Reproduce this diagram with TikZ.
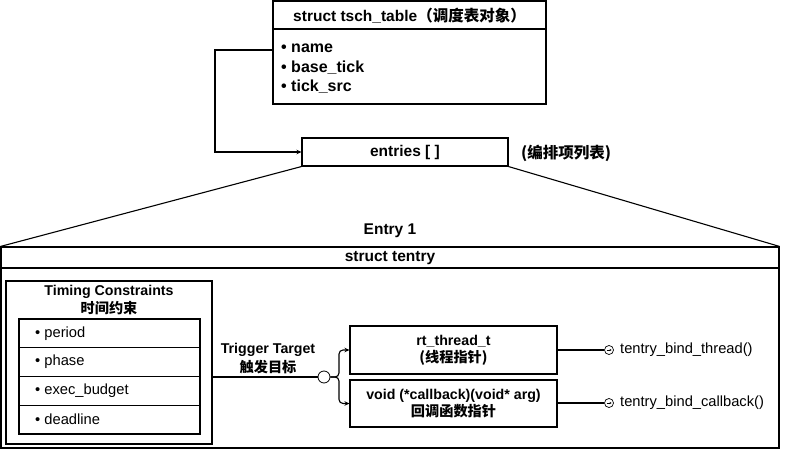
\documentclass[tikz,border=0pt]{standalone}
\usepackage{fontspec}
\setmainfont{Liberation Sans}
\newfontfamily\cjk{Noto Sans CJK SC}
\usetikzlibrary{arrows.meta}
\newcommand{\zh}[1]{{\cjk #1}}
\begin{document}
\begin{tikzpicture}[x=1pt,y=-1pt,
  ln/.style={draw=black, line width=1.1pt},
  box/.style={ln, inner sep=0pt, rectangle},
  hdr/.style={inner sep=0pt, font=\fontsize{15.5}{18}\selectfont\bfseries},
  bt/.style={inner sep=0pt, font=\fontsize{14.2}{17}\selectfont\bfseries, align=center},
  itm/.style={inner sep=0pt, anchor=west, font=\fontsize{16}{19}\selectfont\bfseries},
  reg/.style={inner sep=0pt, anchor=west, font=\fontsize{14.7}{17}\selectfont},
  tip/.style={-{Stealth[length=5pt,width=4.5pt]}},
  port/.style={circle, draw=black, line width=0.7pt, minimum size=9pt, inner sep=0pt, fill=white}
]
\useasboundingbox (0,0) rectangle (800,449);

% tsch_table
\node[box, minimum width=273pt, minimum height=103pt] (tsch) at (409.5,52.5) {};
\draw[ln] (tsch.west |- 0,29) -- (tsch.east |- 0,29);
\node[hdr] (tschtitle) at (409.5,15.5) {struct tsch\_table\zh{（调度表对象）}};
\node[itm] (iname) at (281,48) {• name};
\node[itm] (ibase) at (281,67.5) {• base\_tick};
\node[itm] (isrc) at (281,87) {• tick\_src};

% entries
\node[box, minimum width=206pt, minimum height=28pt, hdr] (entries) at (405,152) {entries [ ]};
\node[hdr, anchor=west] (elist) at (521,153) {\zh{(编排项列表)}};
\draw[ln, tip] (tsch.west |- 0,50) -- (215,50) |- (entries.west);

% tentry
\node[box, minimum width=778pt, minimum height=201pt] (tentry) at (390,347.5) {};
\draw[ln] (entries.south west) -- (tentry.north west);
\draw[ln] (entries.south east) -- (tentry.north east);
\node[hdr] (entry1) at (390,231) {Entry 1};
\draw[ln] (tentry.west |- 0,268) -- (tentry.east |- 0,268);
\node[hdr] (tentrytitle) at (390,258) {struct tentry};

% timing constraints
\node[box, minimum width=206pt, minimum height=163pt] (timing) at (109,362.5) {};
\node[bt] (tc1) at (109,292) {Timing Constraints};
\node[bt] (tc2) at (109,308.5) {\zh{时间约束}};
\node[box, minimum width=181pt, minimum height=28.75pt] (r1) at (109.5,333.4) {};
\node[box, minimum width=181pt, minimum height=28.75pt] (r2) at (109.5,362.1) {};
\node[box, minimum width=181pt, minimum height=28.75pt] (r3) at (109.5,390.9) {};
\node[box, minimum width=181pt, minimum height=28.75pt] (r4) at (109.5,419.6) {};
\node[reg] (t1) at (35,333.4) {• period};
\node[reg] (t2) at (35,362.1) {• phase};
\node[reg] (t3) at (35,390.9) {• exec\_budget};
\node[reg] (t4) at (35,419.6) {• deadline};

% trigger
\node[circle, draw=black, line width=0.8pt, minimum size=12pt, inner sep=0pt, fill=white] (hub) at (324,377) {};
\draw[ln] (timing.east |- hub) -- (hub);
\node[bt] (tg1) at (268,350) {Trigger Target};
\node[bt] (tg2) at (268,367) {\zh{触发目标}};

% targets
\node[box, minimum width=207pt, minimum height=48pt, bt] (rt) at (453.5,350) {rt\_thread\_t\\\zh{(线程指针)}};
\node[box, minimum width=207pt, minimum height=47pt, bt] (cb) at (453.5,403.5) {void (*callback)(void* arg)\\\zh{回调函数指针}};
\draw[ln, tip, rounded corners=4pt] (hub.east) -- (339,377) |- (rt.west);
\draw[ln, tip, rounded corners=4pt] (hub.east) -- (339,377) |- (cb.west);

% bind ports
\node[port] (p1) at (609,350) {};
\node[port] (p2) at (609,403) {};
\draw[ln] (rt.east) -- (p1);
\draw[ln] (cb.east |- p2) -- (p2);
\draw[line width=0.5pt, -{Stealth[length=2pt,width=2.2pt]}] ([xshift=-2.5pt]p1.center) -- ([xshift=2.5pt]p1.center);
\draw[line width=0.5pt, -{Stealth[length=2pt,width=2.2pt]}] ([xshift=-2.5pt]p2.center) -- ([xshift=2.5pt]p2.center);
\node[reg] (f1) at (620,350) {tentry\_bind\_thread()};
\node[reg] (f2) at (620,403) {tentry\_bind\_callback()};
\end{tikzpicture}
\end{document}
